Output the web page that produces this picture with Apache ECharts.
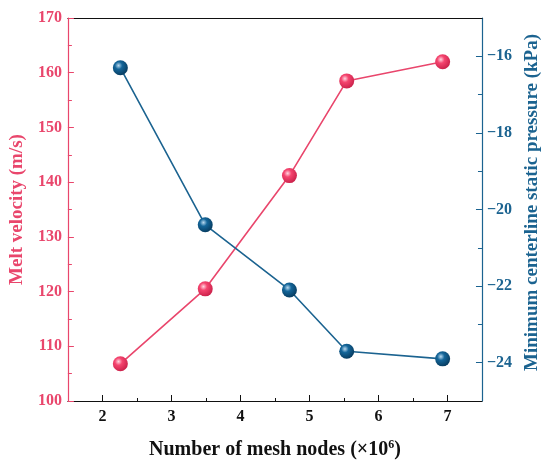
<!DOCTYPE html>
<html>
<head>
<meta charset="utf-8">
<script src="https://cdn.jsdelivr.net/npm/echarts@6/dist/echarts.min.js"></script>
<style>
    html, body {margin: 0; padding: 0; background: #fff;}
    #chart_mesh {width: 550px; height: 469px;}
</style>
</head>
<body>
<div id="chart_mesh"></div>
<script>
// mesh independence data
var meshNodes = [2.26, 3.49, 4.71, 5.54, 6.93];
var meltVelocity = [106.8, 120.5, 141.2, 158.5, 162.0];
var minPressure = [-16.3, -20.4, -22.1, -23.7, -23.9];

var xMajorTicks = [2, 3, 4, 5, 6, 7];
var xMinorTicks = [2.5, 3.5, 4.5, 5.5, 6.5];
var pMajorTicks = [-24, -22, -20, -18, -16];
var pMinorTicks = [-23, -21, -19, -17];

var pink = '#e9466c';
var blue = '#1b6390';
var font = '"Liberation Serif", "Times New Roman", serif';

function pairs(xs, ys) {
    return xs.map(function (x, i) {
        return [x, ys[i]];
    });
}

function ball(light, mid, dark) {
    return {
        type: 'radial', x: 0.38, y: 0.35, r: 0.7,
        colorStops: [
            {offset: 0, color: light},
            {offset: 0.35, color: mid},
            {offset: 1, color: dark}
        ]
    };
}

function minus(v) {
    return v < 0 ? '\u2212' + Math.abs(v) : '' + v;
}

var option = {
    backgroundColor: '#fff',
    animation: false,
    grid: {left: 67, right: 68, top: 18, bottom: 68},
    xAxis: [{
            type: 'value',
            position: 'bottom',
            min: 1.5,
            max: 7.5,
            splitLine: {show: false},
            axisLine: {lineStyle: {color: '#111', width: 1.2}},
            axisTick: {inside: true, length: 6, customValues: xMajorTicks, lineStyle: {color: '#111'}},
            axisLabel: {
                customValues: xMajorTicks,
                margin: 8,
                color: '#111',
                fontFamily: font,
                fontWeight: 'bold',
                fontSize: 16
            },
            name: 'Number of mesh nodes (\u00d710{sup|6})',
            nameLocation: 'middle',
            nameGap: 38,
            nameTextStyle: {
                color: '#111',
                fontFamily: font,
                fontWeight: 'bold',
                fontSize: 20,
                rich: {
                    sup: {fontFamily: font, fontWeight: 'bold', fontSize: 12, color: '#111', verticalAlign: 'top', padding: [0, 0, 10, 0]}
                }
            }
        }, {
            // minor ticks on the bottom axis
            type: 'value',
            position: 'bottom',
            min: 1.5,
            max: 7.5,
            splitLine: {show: false},
            axisLine: {show: false},
            axisTick: {inside: true, length: 3, customValues: xMinorTicks, lineStyle: {color: '#111'}},
            axisLabel: {show: false}
        }, {
            // top frame line
            type: 'value',
            position: 'top',
            min: 1.5,
            max: 7.5,
            splitLine: {show: false},
            axisLine: {lineStyle: {color: '#111', width: 1.2}},
            axisTick: {show: false},
            axisLabel: {show: false}
        }],
    yAxis: [{
            type: 'value',
            position: 'left',
            min: 100,
            max: 170,
            interval: 10,
            splitLine: {show: false},
            axisLine: {show: true, lineStyle: {color: pink, width: 1.2}},
            axisTick: {inside: true, length: 6, lineStyle: {color: pink}},
            minorTick: {show: true, splitNumber: 2, length: 4, lineStyle: {color: pink}},
            axisLabel: {
                margin: 6,
                color: pink,
                fontFamily: font,
                fontWeight: 'bold',
                fontSize: 16
            },
            name: 'Melt velocity (m/s)',
            nameLocation: 'middle',
            nameGap: 33,
            nameTextStyle: {color: pink, fontFamily: font, fontWeight: 'bold', fontSize: 19}
        }, {
            type: 'value',
            position: 'right',
            min: -25,
            max: -15,
            splitLine: {show: false},
            axisLine: {show: true, lineStyle: {color: blue, width: 1.2}},
            axisTick: {inside: true, length: 6, customValues: pMajorTicks, lineStyle: {color: blue}},
            axisLabel: {
                customValues: pMajorTicks,
                formatter: minus,
                margin: 5,
                color: blue,
                fontFamily: font,
                fontWeight: 'bold',
                fontSize: 16
            },
            name: 'Minimum centerline static pressure (kPa)',
            nameLocation: 'middle',
            nameGap: 35,
            nameTextStyle: {color: blue, fontFamily: font, fontWeight: 'bold', fontSize: 19, padding: [0, 0, 0, 14]}
        }, {
            // minor ticks on the pressure axis
            type: 'value',
            position: 'right',
            min: -25,
            max: -15,
            splitLine: {show: false},
            axisLine: {show: false},
            axisTick: {inside: true, length: 4, customValues: pMinorTicks, lineStyle: {color: blue}},
            axisLabel: {show: false}
        }],
    series: [
        {
            type: 'line',
            name: 'Melt velocity',
            xAxisIndex: 0,
            yAxisIndex: 0,
            data: pairs(meshNodes, meltVelocity),
            symbol: 'circle',
            symbolSize: 15,
            lineStyle: {color: pink, width: 1.6},
            itemStyle: {color: ball('#ffd6e0', '#f5456f', '#c81f48'), borderWidth: 0}
        },
        {
            type: 'line',
            name: 'Pressure',
            xAxisIndex: 0,
            yAxisIndex: 1,
            data: pairs(meshNodes, minPressure),
            symbol: 'circle',
            symbolSize: 15,
            lineStyle: {color: blue, width: 1.6},
            itemStyle: {color: ball('#b9d9ef', '#14669a', '#06395c'), borderWidth: 0}
        }
    ]
};

var chart_mesh = echarts.init(document.getElementById('chart_mesh'));
chart_mesh.setOption(option);
</script>
</body>
</html>
